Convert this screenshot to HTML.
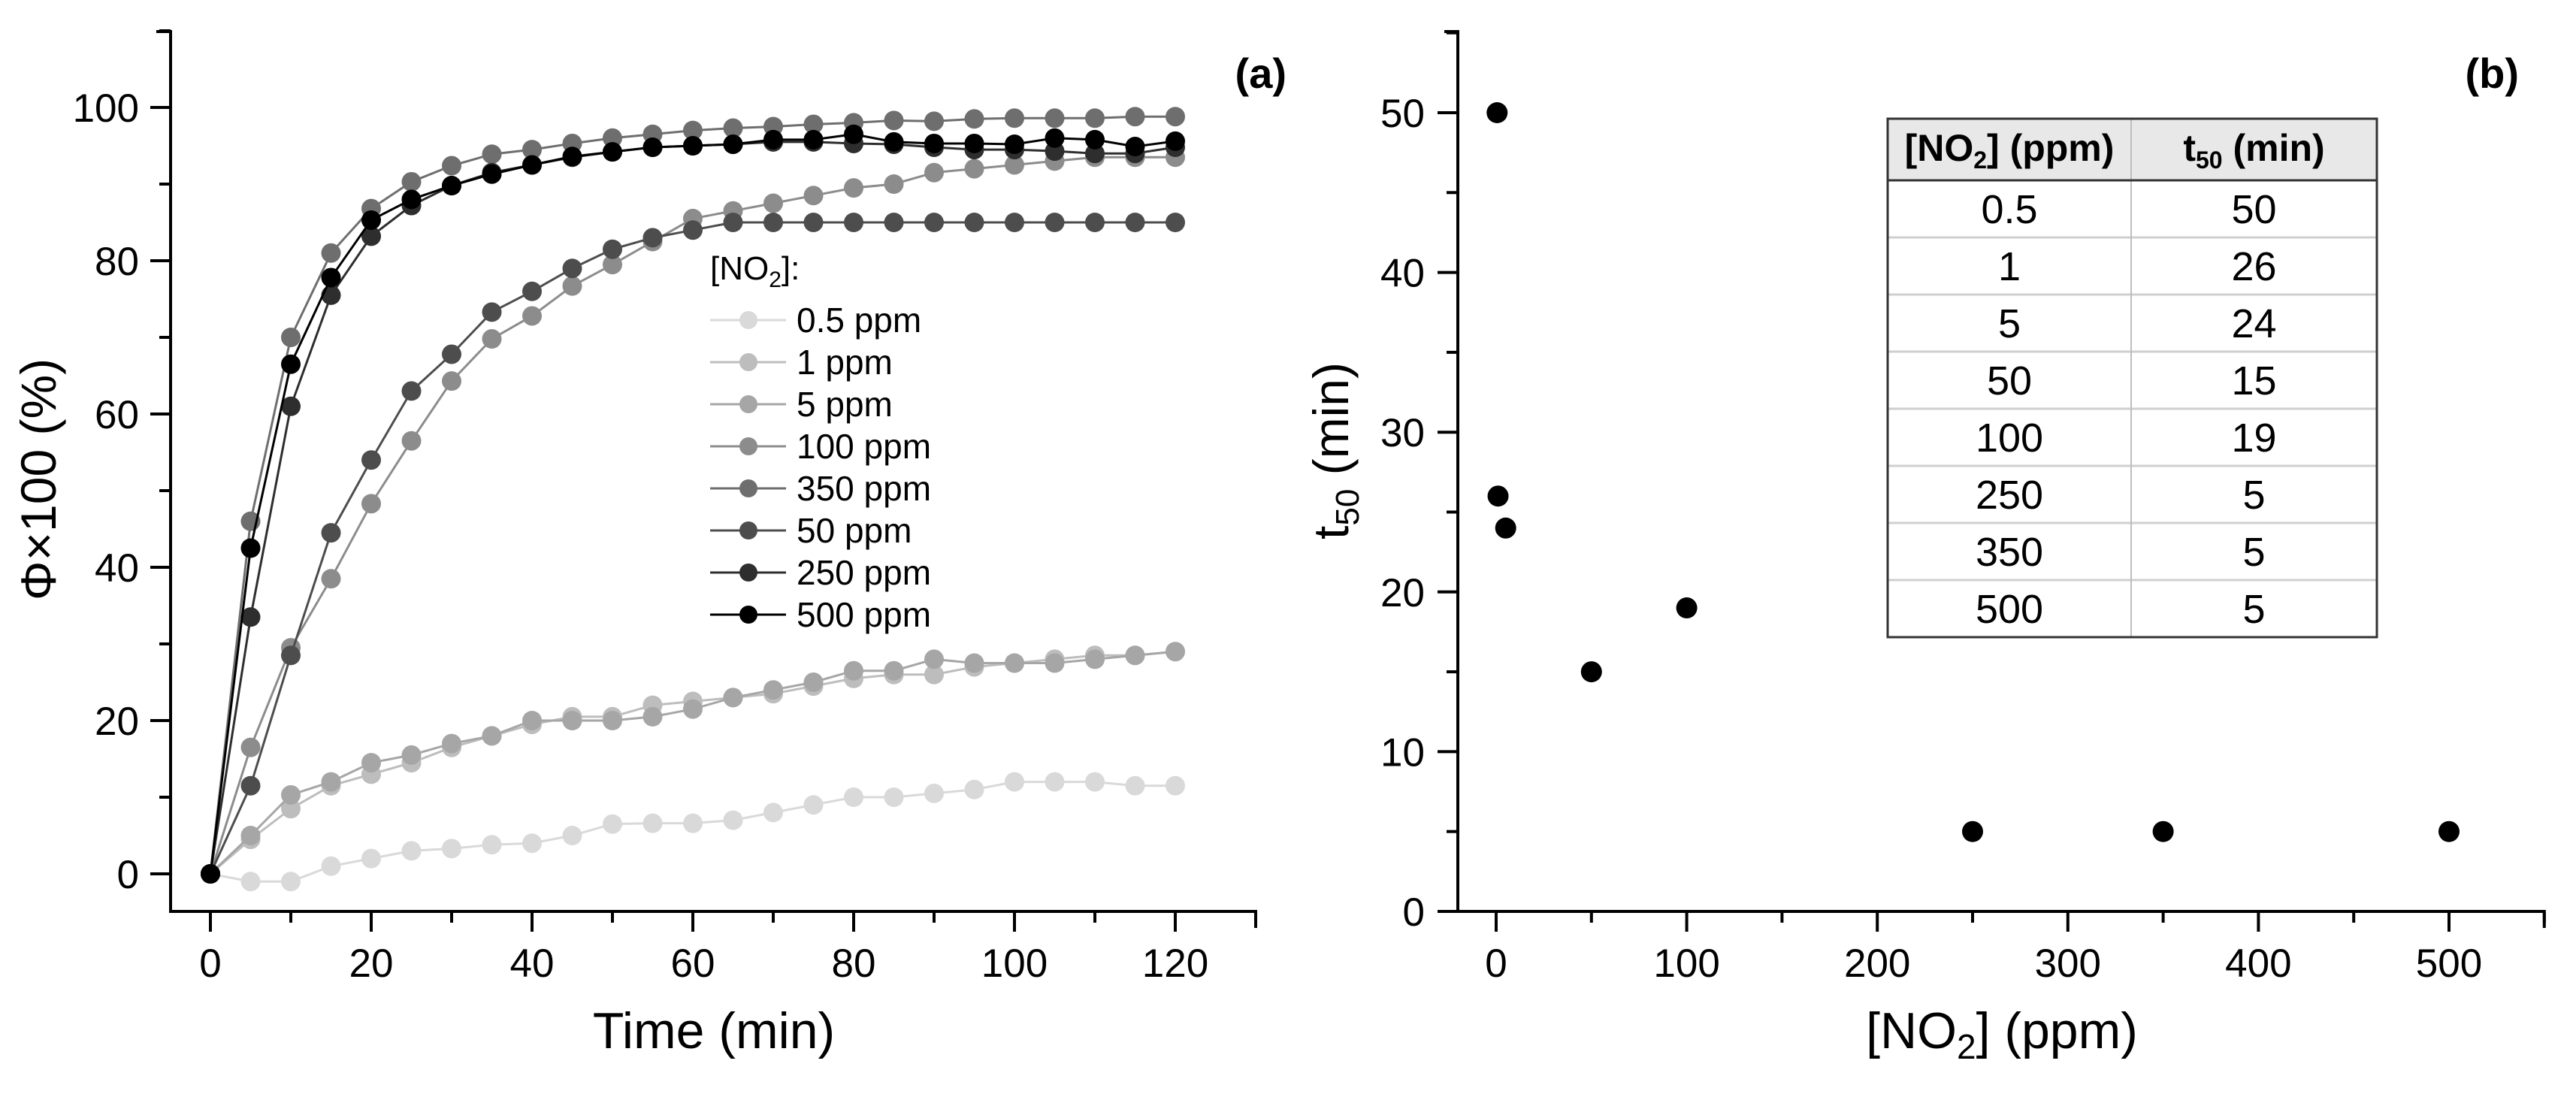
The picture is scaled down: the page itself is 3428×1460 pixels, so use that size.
<!DOCTYPE html>
<html><head><meta charset="utf-8"><style>
html,body{margin:0;padding:0;background:#fff;}
svg{display:block;font-family:"Liberation Sans",Arial,sans-serif;}
</style></head><body>
<svg id="fig" width="3428" height="1460" viewBox="0 0 3428 1460" xmlns="http://www.w3.org/2000/svg">
<rect width="3428" height="1460" fill="#fff"/>
<g id="pa"></g>
<g id="pb"></g>
</svg>
<script>
const times=[0,5,10,15,20,25,30,35,40,45,50,55,60,65,70,75,80,85,90,95,100,105,110,115,120];
const seriesNames=["0.5 ppm","1 ppm","5 ppm","100 ppm","350 ppm","50 ppm","250 ppm","500 ppm"];
const s05=[0,-1,-1,1,2,3,3.3,3.8,4,5,6.5,6.6,6.6,7,8,9,10,10,10.5,11,12,12,12,11.5,11.5];
const s1=[0,4.5,8.5,11.5,13,14.5,16.5,18,19.5,20.5,20.5,22,22.5,23,23.5,24.5,25.5,26,26,27,27.5,28,28.5,28.5,29];
const s5=[0,5,10.3,12,14.5,15.5,17,18,20,20,20,20.5,21.5,23,24,25,26.5,26.5,28,27.5,27.5,27.5,28,28.5,29];
const s100=[0,16.5,29.5,38.5,48.3,56.5,64.3,69.8,72.8,76.7,79.5,82.5,85.5,86.5,87.5,88.5,89.5,90,91.5,92,92.5,93,93.5,93.5,93.5];
const s350=[0,46,70,81,86.8,90.3,92.4,93.9,94.5,95.3,96,96.5,97,97.3,97.5,97.8,98,98.3,98.2,98.5,98.6,98.6,98.6,98.8,98.8];
const s50=[0,11.5,28.5,44.5,54,63,67.8,73.3,76,79,81.5,83,84,85,85,85,85,85,85,85,85,85,85,85,85];
const s250=[0,33.5,61,75.5,83.2,87.2,89.8,91.5,92.5,93.5,94.2,94.8,95,95.2,95.5,95.5,95.3,95.2,94.8,94.5,94.5,94.3,94,94,94.8];
const s500=[0,42.5,66.5,77.8,85.3,88,89.8,91.3,92.5,93.6,94.2,94.8,95,95.2,95.8,95.8,96.5,95.5,95.3,95.3,95.2,96,95.8,94.9,95.6];
const seriesColors=["#d9d9d9","#bdbdbd","#a6a6a6","#8c8c8c","#6e6e6e","#4d4d4d","#2e2e2e","#000000"];
const aXTicks=[0,20,40,60,80,100,120];
const aYTicks=[0,20,40,60,80,100];
const concs=[0.5,1,5,50,100,250,350,500];
const t50s=[50,26,24,15,19,5,5,5];
const tableConc=["0.5","1","5","50","100","250","350","500"];
const tableT50=["50","26","24","15","19","5","5","5"];
const bXTicks=[0,100,200,300,400,500];
const bYTicks=[0,10,20,30,40,50];

const NS="http://www.w3.org/2000/svg";
function mk(p,tag,attrs,txt){const e=document.createElementNS(NS,tag);for(const k in attrs)e.setAttribute(k,attrs[k]);if(txt!==undefined)e.textContent=txt;p.appendChild(e);return e;}

// Panel A
const pa=document.getElementById('pa');
const ax=t=>280+(t-0)*10.7;
const ay=v=>1163-v*10.2;
const allA=[s05,s1,s5,s100,s350,s50,s250,s500];
// axes
let e;
e=mk(pa,'path',{d:`M227 42 H208 M227 40 V1213 H${ax(130)} V1235`,stroke:'#000','stroke-width':4,fill:'none'});


for(let v=0;v<=110;v+=10){const major=v%20===0;
 e=mk(pa,'line',{x1:227,x2:major?200:212,y1:ay(v),y2:ay(v),stroke:'#000','stroke-width':4});
 
 }
aYTicks.forEach(v=>{e=mk(pa,'text',{x:185,y:ay(v)+19,'text-anchor':'end','font-size':53},String(v));
 
 });
for(let t=-0;t<=130;t+=10){const major=t%20===0;
 e=mk(pa,'line',{x1:ax(t),x2:ax(t),y1:1213,y2:major?1240:1228,stroke:'#000','stroke-width':4});
 
 }
aXTicks.forEach(t=>{e=mk(pa,'text',{x:ax(t),y:1300,'text-anchor':'middle','font-size':53},String(t));
 
 });
e=mk(pa,'text',{x:950,y:1395,'text-anchor':'middle','font-size':68},'Time (min)');


e=mk(pa,'text',{x:0,y:0,'text-anchor':'middle','font-size':66,transform:'translate(74,638) rotate(-90)'},'Φ×100 (%)');


e=mk(pa,'text',{x:1712,y:117,'text-anchor':'end','font-size':56,'font-weight':'bold'},'(a)');


allA.forEach((s,i)=>{
 const g=mk(pa,'g',{});
 
 
 mk(g,'polyline',{points:s.map((v,j)=>ax(times[j])+','+ay(v)).join(' '),fill:'none',stroke:seriesColors[i],'stroke-width':3});
 s.forEach((v,j)=>{const c=mk(g,'circle',{cx:ax(times[j]),cy:ay(v),r:13,fill:seriesColors[i]});
  
  });
});
// legend
const lg=mk(pa,'g',{});


e=mk(lg,'text',{x:945,y:372,'font-size':44});
e.innerHTML='[NO<tspan font-size="30" dy="10">2</tspan><tspan dy="-10">]:</tspan>';


seriesNames.forEach((n,i)=>{const y=426+i*56;
 const g=mk(lg,'g',{});
 
 
 mk(g,'line',{x1:945,x2:1046,y1:y,y2:y,stroke:seriesColors[i],'stroke-width':3});
 mk(g,'circle',{cx:996,cy:y,r:12,fill:seriesColors[i]});
 mk(g,'text',{x:1060,y:y+16,'font-size':46},n);
});

// Panel B
const pb=document.getElementById('pb');
const bx=c=>1991+c*2.536;
const by=v=>1213-v*21.26;
e=mk(pb,'path',{d:`M1940 42 H1922 M1940 40 V1213 H${bx(550)} V1235`,stroke:'#000','stroke-width':4,fill:'none'});


mk(pb,'line',{x1:1940,x2:1920,y1:1213,y2:1213,stroke:'#000','stroke-width':4});
for(let v=0;v<=55;v+=5){const major=v%10===0;
 e=mk(pb,'line',{x1:1940,x2:major?1913:1925,y1:by(v),y2:by(v),stroke:'#000','stroke-width':4});
 
 }
bYTicks.forEach(v=>{e=mk(pb,'text',{x:1896,y:by(v)+19,'text-anchor':'end','font-size':53},String(v));
 
 });
for(let c=0;c<=550;c+=50){const major=c%100===0;
 e=mk(pb,'line',{x1:bx(c),x2:bx(c),y1:1213,y2:major?1240:1228,stroke:'#000','stroke-width':4});
 
 }
bXTicks.forEach(c=>{e=mk(pb,'text',{x:bx(c),y:1300,'text-anchor':'middle','font-size':53},String(c));
 
 });
e=mk(pb,'text',{x:2664,y:1395,'text-anchor':'middle','font-size':68});
e.innerHTML='[NO<tspan font-size="46" dy="14">2</tspan><tspan dy="-14">] (ppm)</tspan>';


e=mk(pb,'text',{x:0,y:0,'text-anchor':'middle','font-size':66,transform:'translate(1794,600) rotate(-90)'});
e.innerHTML='t<tspan font-size="44" dy="14">50</tspan><tspan dy="-14"> (min)</tspan>';


e=mk(pb,'text',{x:3352,y:117,'text-anchor':'end','font-size':56,'font-weight':'bold'},'(b)');


concs.forEach((c,i)=>{e=mk(pb,'circle',{cx:bx(c),cy:by(t50s[i]),r:14,fill:'#000'});
 
 });
// table
const tg=mk(pb,'g',{});


const L=2512,M=2836,R=3163,T=158,HB=240,RH=76;
mk(tg,'rect',{x:L,y:T,width:R-L,height:HB-T,fill:'#e8e8e8'});
for(let i=1;i<8;i++)mk(tg,'line',{x1:L,x2:R,y1:HB+i*RH,y2:HB+i*RH,stroke:'#cfcfcf','stroke-width':3});
mk(tg,'line',{x1:M,x2:M,y1:T,y2:HB+8*RH,stroke:'#bdbdbd','stroke-width':2});
mk(tg,'line',{x1:L,x2:R,y1:HB,y2:HB,stroke:'#333','stroke-width':3});
mk(tg,'rect',{x:L,y:T,width:R-L,height:HB+8*RH-T,fill:'none',stroke:'#333','stroke-width':3});
e=mk(tg,'text',{x:(L+M)/2,y:214,'text-anchor':'middle','font-size':50,'font-weight':'bold','font-family':'"Liberation Sans Narrow","Liberation Sans",sans-serif'});
e.innerHTML='[NO<tspan font-size="32" dy="10">2</tspan><tspan dy="-10">] (ppm)</tspan>';


e=mk(tg,'text',{x:(M+R)/2,y:214,'text-anchor':'middle','font-size':50,'font-weight':'bold','font-family':'"Liberation Sans Narrow","Liberation Sans",sans-serif'});
e.innerHTML='t<tspan font-size="32" dy="10">50</tspan><tspan dy="-10"> (min)</tspan>';


tableConc.forEach((c,i)=>{const y=HB+i*RH+RH/2+19;
 e=mk(tg,'text',{x:(L+M)/2,y:y,'text-anchor':'middle','font-size':54},c);
 
 
 e=mk(tg,'text',{x:(M+R)/2,y:y,'text-anchor':'middle','font-size':54},tableT50[i]);
 
 
});
</script>
</body></html>
